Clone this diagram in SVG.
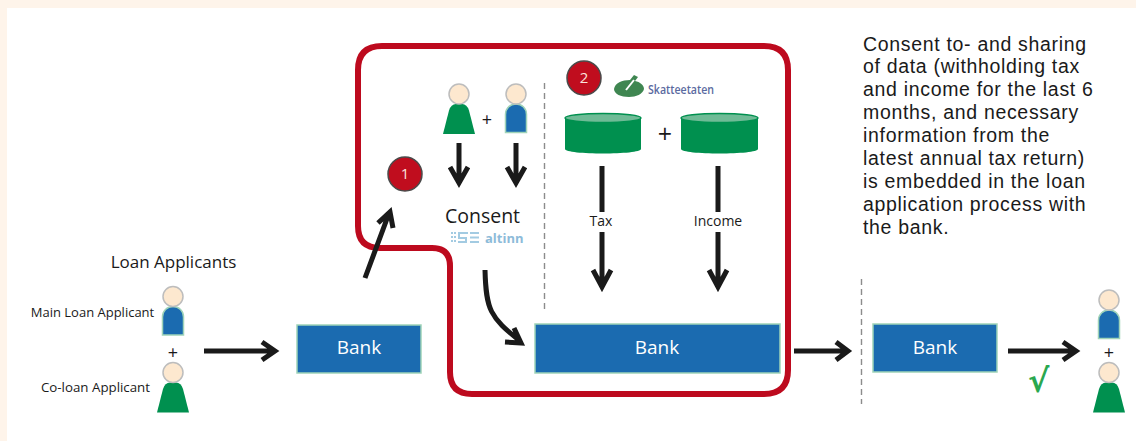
<svg xmlns="http://www.w3.org/2000/svg" width="1136" height="441" viewBox="0 0 1136 441">
<style>
text{font-family:"Open Sans","Noto Sans","DejaVu Sans",sans-serif;fill:#1a1a1a}
.bank{fill:#1b6bb0;stroke:#9fd3b8;stroke-width:1.5}
.banktxt{fill:#fff;font-size:19px;text-anchor:middle}
.arr{fill:none;stroke:#1a1a1a;stroke-width:5}
.face{fill:#fde8cf;stroke:#bdbdbd;stroke-width:1.5}
.dash{fill:none;stroke:#8c8c8c;stroke-width:1.4;stroke-dasharray:6 4}
.badge{fill:#c00d1e;stroke:#4a4a4a;stroke-width:1.5}
.badgetxt{fill:#fbe3dc;font-size:15px;text-anchor:middle}
.cyl{fill:#00904f}
.cyltop{fill:#6fbb96;stroke:#00904f;stroke-width:1.5}
.plus{font-size:18px;text-anchor:middle}
#note text{font-family:"Liberation Sans",Arial,sans-serif;font-size:19.500px;letter-spacing:.68px}
</style>
<defs>
<g id="blue"><path class="bank" d="M-10.500 49V31C-10.500 25-6 20.500 0 20.500S10.500 25 10.500 31V49Z"/><circle class="face" cx="0" cy="10.500" r="10"/></g>
<g id="green"><path d="M-16 50.500-10 27Q-8 20.500-3 20.500H3Q8 20.500 10 27L16 50.500Z" fill="#00904f"/><circle class="face" cx="0" cy="10.500" r="10"/></g>
</defs>
<rect width="1136" height="441" fill="#fef4ea"/>
<rect x="7" y="8" width="1129" height="433" fill="#fff"/>

<path id="boundary" d="M382 46H764Q788 46 788 70V370Q788 394 764 394H472Q450 394 450 372V266Q450 248 432 248H380Q358 248 358 226V70Q358 46 382 46Z" fill="none" stroke="#bd0a1e" stroke-width="6"/>

<g id="connectors">
<path class="arr" d="M204 351H273M262 342 275 351 262 360"/>
<path class="arr" d="M365 278 388 216M378 223 390 212 393 228"/>
<path class="arr" d="M459 143V180M450 167 459 183 468 167"/>
<path class="arr" d="M516 143V180M507 167 516 183 525 167"/>
<path class="arr" d="M485 270C486 310 490 317 520 341M505 342 521 343 514 328"/>
<path class="arr" d="M602 166V285M593 270 602 287 611 270"/>
<path class="arr" d="M718 166V285M709 270 718 287 727 270"/>
<path class="arr" d="M794 351H846M836 342 848 351 836 360"/>
<path class="arr" d="M1008 351H1074M1063 342 1076 351 1063 360"/>
<path class="dash" d="M544.500 83V312"/>
<path class="dash" d="M861.500 279V404"/>
</g>

<g id="applicants-label"><text x="173.500" y="268" font-size="17" text-anchor="middle">Loan Applicants</text>
<text x="92.500" y="317" font-size="13" text-anchor="middle">Main Loan Applicant</text>
<text x="95.500" y="392" font-size="13.300" text-anchor="middle">Co-loan Applicant</text>
<text class="plus" x="173" y="359">+</text></g>
<use id="main-applicant" href="#blue" x="173" y="286"/>
<use id="co-applicant" href="#green" x="173" y="362"/>

<g id="bank-1"><rect class="bank" x="297" y="325" width="124" height="48"/><text class="banktxt" x="359" y="354">Bank</text></g>

<g id="badge-1"><circle class="badge" cx="405" cy="174" r="17"/><text class="badgetxt" x="405" y="179">1</text></g>
<g id="consent-people"><use href="#green" x="459" y="83.500"/><text class="plus" x="487" y="126">+</text><use href="#blue" x="516" y="83.500"/></g>
<g id="consent"><text x="482.500" y="223" font-size="19.500" text-anchor="middle">Consent</text>
<g fill="#a3cbe2"><path d="M451 232h2v2h-2zM454 232h2v2h-2zM451 236h2v2h-2zM454 236h2v2h-2zM451 240h2v2h-2zM454 240h2v2h-2z"/><path d="M458 232H468V234H460V237H467V243H458V241H465V239H458ZM470 232H479V234H470ZM470 236.500H479V238.500H470ZM470 241H479V243H470Z"/></g>
<text x="485" y="243" font-size="13" font-weight="700" style="fill:#8dbbd9">altinn</text></g>

<g id="badge-2"><circle class="badge" cx="584" cy="78" r="17"/><text class="badgetxt" x="584" y="83">2</text></g>
<g id="skatteetaten"><path d="M614 89C615 83 622 80 630 80L634 75 638 77 635 81C640 82 644 85 644 89 643 94 636 97 629 97 621 97 614 94 614 89Z" fill="#3f8651"/><path d="M626 90 634 80" stroke="#fff" stroke-width="2"/><text x="648" y="94" font-size="13" font-weight="600" textLength="66" lengthAdjust="spacingAndGlyphs" style="fill:#5a6aa0">Skatteetaten</text></g>

<g id="db-1"><path class="cyl" d="M565 118V149C565 155 641 155 641 149V118Z"/><ellipse class="cyltop" cx="603" cy="118" rx="38" ry="4.500"/></g>
<g id="plus"><text x="665" y="143" font-size="25" text-anchor="middle">+</text></g>
<g id="db-2"><path class="cyl" d="M681 118V149C681 155 758 155 758 149V118Z"/><ellipse class="cyltop" cx="719.500" cy="118" rx="38.500" ry="4.500"/></g>

<rect x="585" y="212" width="34" height="20" fill="#fff"/><text x="601" y="226" font-size="14" text-anchor="middle">Tax</text>
<rect x="690" y="212" width="56" height="20" fill="#fff"/><text x="718" y="226" font-size="14" text-anchor="middle">Income</text>

<g id="bank-2"><rect class="bank" x="535" y="324" width="245" height="49"/><text class="banktxt" x="657" y="354">Bank</text></g>
<g id="bank-3"><rect class="bank" x="873" y="324" width="124" height="48"/><text class="banktxt" x="935" y="354">Bank</text></g>

<text id="check" x="1028" y="392" font-size="32" font-weight="700" style="fill:#2aa84f;font-family:'DejaVu Sans',sans-serif">√</text>
<use id="result-main" href="#blue" x="1109" y="289.500"/>
<text class="plus" x="1109" y="359">+</text>
<use id="result-co" href="#green" x="1109" y="362"/>

<g id="note"><text x="863" y="50.500">Consent to- and sharing</text>
<text x="863" y="73.400">of data (withholding tax</text>
<text x="863" y="96.300">and income for the last 6</text>
<text x="863" y="119.200">months, and necessary</text>
<text x="863" y="142.100">information from the</text>
<text x="863" y="165">latest annual tax return)</text>
<text x="863" y="187.900">is embedded in the loan</text>
<text x="863" y="210.800">application process with</text>
<text x="863" y="233.700">the bank.</text></g>
</svg>
